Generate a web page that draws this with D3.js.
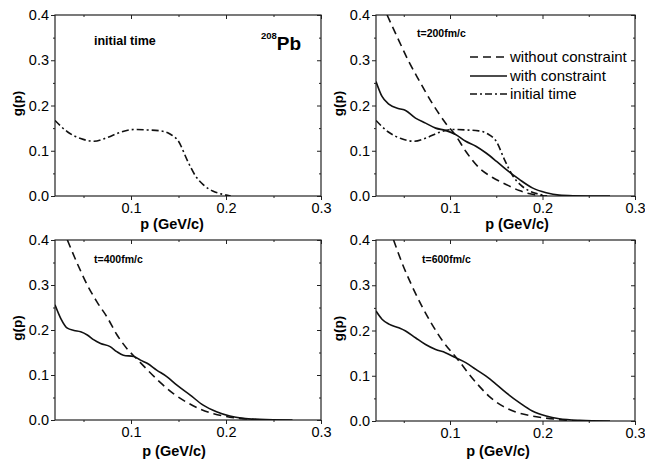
<!DOCTYPE html>
<html><head><meta charset="utf-8">
<script src="https://cdn.jsdelivr.net/npm/d3@7"></script>
<style>
body{margin:0;background:#fff}
svg{display:block}
text{font-family:"Liberation Sans",Arial,Helvetica,sans-serif;fill:#000}
</style></head>
<body><svg id="c" width="645" height="464"></svg>
<script>
// ---- data ----
const xMajorTicks = [0.1, 0.2, 0.3];
const xMinorTicks = [0.05, 0.15, 0.25];
const yMajorTicks = [0.0, 0.1, 0.2, 0.3, 0.4];
const yMinorTicks = [0.05, 0.15, 0.25, 0.35];
const legendLabels = ["without constraint", "with constraint", "initial time"];
const panelTitles = ["initial time", "t=200fm/c", "t=400fm/c", "t=600fm/c"];

// initial time (dash-dot)
const initP = [0.02,0.033,0.047,0.061,0.075,0.089,0.103,0.117,0.131,0.141,0.150,0.159,0.168,0.176,0.186,0.196,0.205];
const initG = [0.167,0.142,0.127,0.121,0.129,0.141,0.147,0.146,0.144,0.137,0.121,0.080,0.044,0.025,0.011,0.004,0.0];

// t=200 fm/c
const w200P = [0.032,0.0446,0.0555,0.0664,0.0808,0.0953,0.106,0.117,0.1316,0.146,0.1606,0.175,0.189,0.204];
const w200G = [0.400,0.344,0.297,0.256,0.205,0.161,0.134,0.099,0.062,0.041,0.0256,0.012,0.0037,0.0];
const c200P = [0.02,0.0265,0.0338,0.045,0.052,0.0627,0.0736,0.0845,0.095,0.106,0.117,0.128,0.139,0.150,0.1606,0.175,0.189,0.204,0.218,0.233,0.265,0.273];
const c200G = [0.253,0.220,0.203,0.193,0.189,0.172,0.161,0.150,0.145,0.136,0.121,0.110,0.095,0.077,0.0586,0.0366,0.018,0.0073,0.002,0.0007,0.0,0.0];

// t=400 fm/c
const w400P = [0.033,0.0434,0.054,0.064,0.075,0.085,0.096,0.106,0.117,0.131,0.145,0.159,0.173,0.187,0.200,0.214,0.228,0.242];
const w400G = [0.400,0.348,0.300,0.263,0.228,0.190,0.158,0.136,0.112,0.083,0.058,0.039,0.024,0.014,0.008,0.0037,0.0015,0.0];
const c400P = [0.02,0.026,0.033,0.040,0.047,0.054,0.061,0.068,0.078,0.085,0.092,0.103,0.110,0.117,0.127,0.138,0.148,0.162,0.176,0.190,0.204,0.218,0.235,0.270];
const c400G = [0.256,0.226,0.204,0.199,0.196,0.189,0.178,0.170,0.163,0.152,0.144,0.141,0.133,0.126,0.111,0.096,0.078,0.056,0.033,0.0185,0.0089,0.0037,0.0015,0.0];

// t=600 fm/c
const w600P = [0.039,0.048,0.059,0.070,0.081,0.092,0.1026,0.110,0.120,0.1316,0.142,0.157,0.171,0.186,0.200,0.215,0.233,0.247];
const w600G = [0.400,0.350,0.298,0.252,0.212,0.177,0.150,0.132,0.105,0.077,0.055,0.033,0.020,0.012,0.0074,0.0037,0.0007,0.0];
const c600P = [0.02,0.0265,0.034,0.0446,0.052,0.0627,0.0736,0.0845,0.095,0.106,0.117,0.128,0.139,0.150,0.1606,0.175,0.189,0.204,0.218,0.240,0.273];
const c600G = [0.243,0.225,0.214,0.206,0.199,0.184,0.169,0.158,0.151,0.140,0.129,0.114,0.099,0.081,0.0626,0.0405,0.022,0.011,0.005,0.0015,0.0];

// ---- drawing ----
const svg = d3.select("#c");
const xDomain = [0.02, 0.3], yDomain = [0, 0.4];
const styles = {
  without: {dash: "8,5"},
  with: {dash: null},
  init: {dash: "7,3,2,3"}
};
const zip = (P, G) => P.map((p, i) => [p, G[i]]);

const panels = [
  {l:55, r:321, t:15, b:196, xlx:172, xly:229, title:panelTitles[0], tx:94, ty:44.5, tsize:12.5,
   series:[["init", zip(initP, initG)]]},
  {l:376, r:635, t:15, b:196, xlx:517, xly:229, title:panelTitles[1], tx:417, ty:36.5, tsize:10.5,
   series:[["init", zip(initP, initG)], ["without", zip(w200P, w200G)], ["with", zip(c200P, c200G)]], legend:true},
  {l:55, r:321, t:240, b:420, xlx:174, xly:456, title:panelTitles[2], tx:94, ty:263, tsize:10.5,
   series:[["without", zip(w400P, w400G)], ["with", zip(c400P, c400G)]]},
  {l:376, r:635, t:240, b:421, xlx:498, xly:456, title:panelTitles[3], tx:422, ty:263, tsize:10.5,
   series:[["without", zip(w600P, w600G)], ["with", zip(c600P, c600G)]]}
];

panels.forEach((P, i) => {
  const x = d3.scaleLinear().domain(xDomain).range([P.l, P.r]);
  const y = d3.scaleLinear().domain(yDomain).range([P.b, P.t]);
  const g = svg.append("g");

  const clipId = "clip" + i;
  g.append("clipPath").attr("id", clipId).append("rect")
    .attr("x", P.l).attr("y", P.t).attr("width", P.r - P.l).attr("height", P.b - P.t);

  const fmt = d3.format(".1f");
  g.append("g").attr("transform", `translate(0,${P.b})`)
    .call(d3.axisBottom(x).tickValues(xMajorTicks).tickSize(4).tickPadding(3).tickFormat(fmt));
  g.append("g").attr("transform", `translate(0,${P.b})`)
    .call(d3.axisBottom(x).tickValues(xMinorTicks).tickSize(2).tickFormat(""));
  g.append("g").attr("transform", `translate(${P.l},0)`)
    .call(d3.axisLeft(y).tickValues(yMajorTicks).tickSize(4).tickPadding(2).tickFormat(fmt));
  g.append("g").attr("transform", `translate(${P.l},0)`)
    .call(d3.axisLeft(y).tickValues(yMinorTicks).tickSize(2).tickFormat(""));
  g.append("g").attr("transform", `translate(0,${P.t})`)
    .call(d3.axisTop(x).tickValues(xMajorTicks).tickSize(-4).tickFormat(""));
  g.append("g").attr("transform", `translate(0,${P.t})`)
    .call(d3.axisTop(x).tickValues(xMinorTicks).tickSize(-2).tickFormat(""));
  g.append("g").attr("transform", `translate(${P.r},0)`)
    .call(d3.axisRight(y).tickValues(yMajorTicks).tickSize(-4).tickFormat(""));
  g.append("g").attr("transform", `translate(${P.r},0)`)
    .call(d3.axisRight(y).tickValues(yMinorTicks).tickSize(-2).tickFormat(""));

  g.selectAll(".domain").remove();
  g.selectAll(".tick line").attr("stroke", "#222").attr("stroke-width", 1);
  g.selectAll(".tick text").attr("font-size", 14.5).attr("fill", "#000")
    .attr("font-family", '"Liberation Sans",Arial,sans-serif');

  g.append("rect").attr("x", P.l).attr("y", P.t)
    .attr("width", P.r - P.l).attr("height", P.b - P.t)
    .attr("fill", "none").attr("stroke", "#222").attr("stroke-width", 1.2);

  const line = d3.line().x(d => x(d[0])).y(d => y(d[1])).curve(d3.curveMonotoneX);
  const cg = g.append("g").attr("clip-path", `url(#${clipId})`);
  P.series.forEach(([k, data]) => {
    cg.append("path").datum(data).attr("d", line)
      .attr("fill", "none").attr("stroke", "#111").attr("stroke-width", 1.6)
      .attr("stroke-dasharray", styles[k].dash);
  });

  g.append("text").attr("x", P.xlx).attr("y", P.xly).attr("text-anchor", "middle")
    .attr("font-weight", "bold").attr("font-size", 14.5).text("p (GeV/c)");
  const cy = (P.t + P.b) / 2 - 2;
  g.append("text").attr("transform", `translate(${P.l - 33},${cy}) rotate(-90)`)
    .attr("text-anchor", "middle").attr("font-weight", "bold").attr("font-size", 13.5).text("g(p)");

  g.append("text").attr("x", P.tx).attr("y", P.ty).attr("font-weight", "bold")
    .attr("font-size", P.tsize).text(P.title);

  if (i === 0) {
    const t = g.append("text").attr("x", 261).attr("y", 49.5).attr("font-weight", "bold");
    t.append("tspan").attr("font-size", 9.5).attr("dy", -11).text("208");
    t.append("tspan").attr("font-size", 19).attr("dy", 11).text("Pb");
  }

  if (P.legend) {
    const keys = ["without", "with", "init"];
    const baselines = [62, 81, 99];
    keys.forEach((k, j) => {
      g.append("line").attr("x1", 470).attr("x2", 507)
        .attr("y1", baselines[j] - 5).attr("y2", baselines[j] - 5)
        .attr("stroke", "#111").attr("stroke-width", 1.6)
        .attr("stroke-dasharray", styles[k].dash);
      g.append("text").attr("x", 510).attr("y", baselines[j])
        .attr("font-size", 15).text(legendLabels[j]);
    });
  }
});
</script></body></html>
